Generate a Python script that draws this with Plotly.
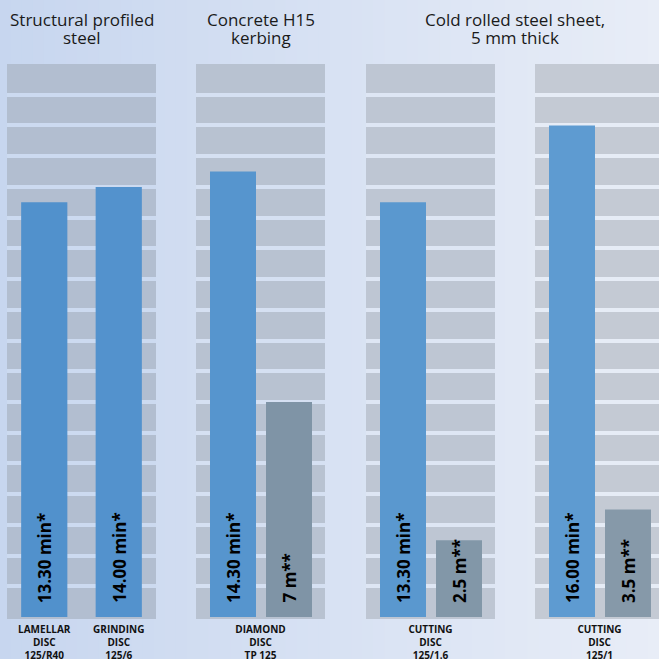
import plotly.graph_objects as go

# ---------------- data ----------------
categories = ["LAMELLAR<br>DISC<br>125/R40", "GRINDING<br>DISC<br>125/6",
              "DIAMOND<br>DISC<br>TP 125", "CUTTING<br>DISC<br>125/1.6",
              "CUTTING<br>DISC<br>125/1"]
panel_of = [0, 0, 1, 2, 3]
time_min = [13.5, 14.0, 14.5, 13.5, 16.0]
time_labels = ["13.30 min*", "14.00 min*", "14.30 min*", "13.30 min*", "16.00 min*"]
cut_m = [None, None, 7.0, 2.5, 3.5]
cut_labels = [None, None, "7 m**", "2.5 m**", "3.5 m**"]
titles = [["Structural profiled", "steel"], ["Concrete H15", "kerbing"],
          ["Cold rolled steel sheet,", "5 mm thick"]]
y_max = 18
grid_vals = list(range(1, 18))

# ---------------- layout helpers ----------------
W = H = 659
panels_px = [(7, 156), (196, 325), (366, 495), (535, 659)]
full_w = 129.0
y_dom = [(H - 619) / H, (H - 64) / H]


def lerp_col(c0, c1, t):
    a = [int(c0[i:i + 2], 16) for i in (1, 3, 5)]
    b = [int(c1[i:i + 2], 16) for i in (1, 3, 5)]
    return "#%02x%02x%02x" % tuple(round(a[k] + (b[k] - a[k]) * t) for k in range(3))


bg_l, bg_r = "#c7d6ef", "#e8edf7"
pn_l, pn_r = "#afbccf", "#c6ccd5"
blue_l, blue_r = "#5090cc", "#609cd1"
gray_l, gray_r = "#7a90a3", "#879aaa"

fig = go.Figure()
shapes = []
annotations = []
# background gradient
N = 60
for i in range(N):
    shapes.append(dict(type="rect", xref="paper", yref="paper", layer="below",
                       x0=i / N, x1=(i + 1) / N + 0.002, y0=0, y1=1,
                       fillcolor=lerp_col(bg_l, bg_r, (i + 0.5) / N), line_width=0))

layout = dict(width=W, height=H, margin=dict(l=0, r=0, t=0, b=0, autoexpand=False),
              paper_bgcolor="#dbe4f3", plot_bgcolor="rgba(0,0,0,0)",
              showlegend=False, barmode="overlay",
              font=dict(family="Open Sans", color="#111111"))

bar_w = 46 / full_w
txt_font = dict(family="Open Sans", size=17, color="#000000", weight="bold")


def bar_label(text, x, sfx):
    annotations.append(dict(xref="x" + sfx, yref="y" + sfx, x=x, y=0,
                            text=text, showarrow=False, textangle=-90,
                            xanchor="center", yanchor="bottom", yshift=12,
                            font=txt_font))


for p, (x0, x1) in enumerate(panels_px):
    sfx = "" if p == 0 else str(p + 1)
    t = ((x0 + x1) / 2) / W
    idx = [i for i in range(len(categories)) if panel_of[i] == p]
    cats = [categories[i] for i in idx]
    if p == 0:
        xr = [-0.5, 1.5]
    else:
        xr = [-0.5, -0.5 + (x1 - x0) / full_w]
    layout["xaxis" + sfx] = dict(domain=[x0 / W, x1 / W], anchor="y" + sfx,
                                 type="category", range=xr, showgrid=False,
                                 zeroline=False, showline=False, ticks="",
                                 automargin=False,
                                 tickfont=dict(family="Open Sans", size=10, color="#111111",
                                               weight="bold"),
                                 ticklabelstandoff=3, fixedrange=True)
    layout["yaxis" + sfx] = dict(domain=y_dom, anchor="x" + sfx, range=[-0.065, y_max],
                                 tickvals=grid_vals, showticklabels=False,
                                 showgrid=True, gridwidth=4, automargin=False,
                                 gridcolor=lerp_col(bg_l, bg_r, t + 0.03),
                                 zeroline=False, showline=False, fixedrange=True)
    shapes.append(dict(type="rect", xref="x" + sfx + " domain", yref="y" + sfx + " domain",
                       layer="below", x0=0, x1=1, y0=0, y1=1,
                       fillcolor=lerp_col(pn_l, pn_r, t), line_width=0))
    if p == 0:
        fig.add_trace(go.Bar(x=cats, y=[time_min[i] for i in idx],
                             width=0.62,
                             marker_color=[lerp_col(blue_l, blue_r, (x0 + 37 + 75 * k) / W)
                                           for k in range(len(idx))],
                             marker_line_width=0,
                             xaxis="x" + sfx, yaxis="y" + sfx, hoverinfo="skip"))
        for k, i in enumerate(idx):
            bar_label(time_labels[i], k, sfx)
    else:
        off_b = -0.5 + 14 / full_w
        off_g = -0.5 + 70 / full_w
        fig.add_trace(go.Bar(x=cats, y=[time_min[i] for i in idx],
                             width=bar_w, offset=off_b,
                             marker_color=lerp_col(blue_l, blue_r, t),
                             marker_line_width=0,
                             xaxis="x" + sfx, yaxis="y" + sfx, hoverinfo="skip"))
        fig.add_trace(go.Bar(x=cats, y=[cut_m[i] for i in idx],
                             width=bar_w, offset=off_g,
                             marker_color=lerp_col(gray_l, gray_r, t),
                             marker_line_width=0,
                             xaxis="x" + sfx, yaxis="y" + sfx, hoverinfo="skip"))
        for i in idx:
            bar_label(time_labels[i], off_b + bar_w / 2, sfx)
            bar_label(cut_labels[i], off_g + bar_w / 2, sfx)

# titles
title_cx = [81.5, 260.5, 515]
for k, lines in enumerate(titles):
    for j, line in enumerate(lines):
        annotations.append(dict(xref="paper", yref="paper", x=title_cx[k] / W,
                                y=1 - (20 + 17 * j) / H, xanchor="center", yanchor="middle",
                                text=line, showarrow=False, borderpad=0,
                                font=dict(family="Open Sans", size=17, color="#1a1a1a")))

layout["shapes"] = shapes
layout["annotations"] = annotations
fig.update_layout(**layout)
fig.write_html("out.html", config={"displayModeBar": False},
               post_script="document.body.style.margin='0';document.body.style.overflow='hidden';")
